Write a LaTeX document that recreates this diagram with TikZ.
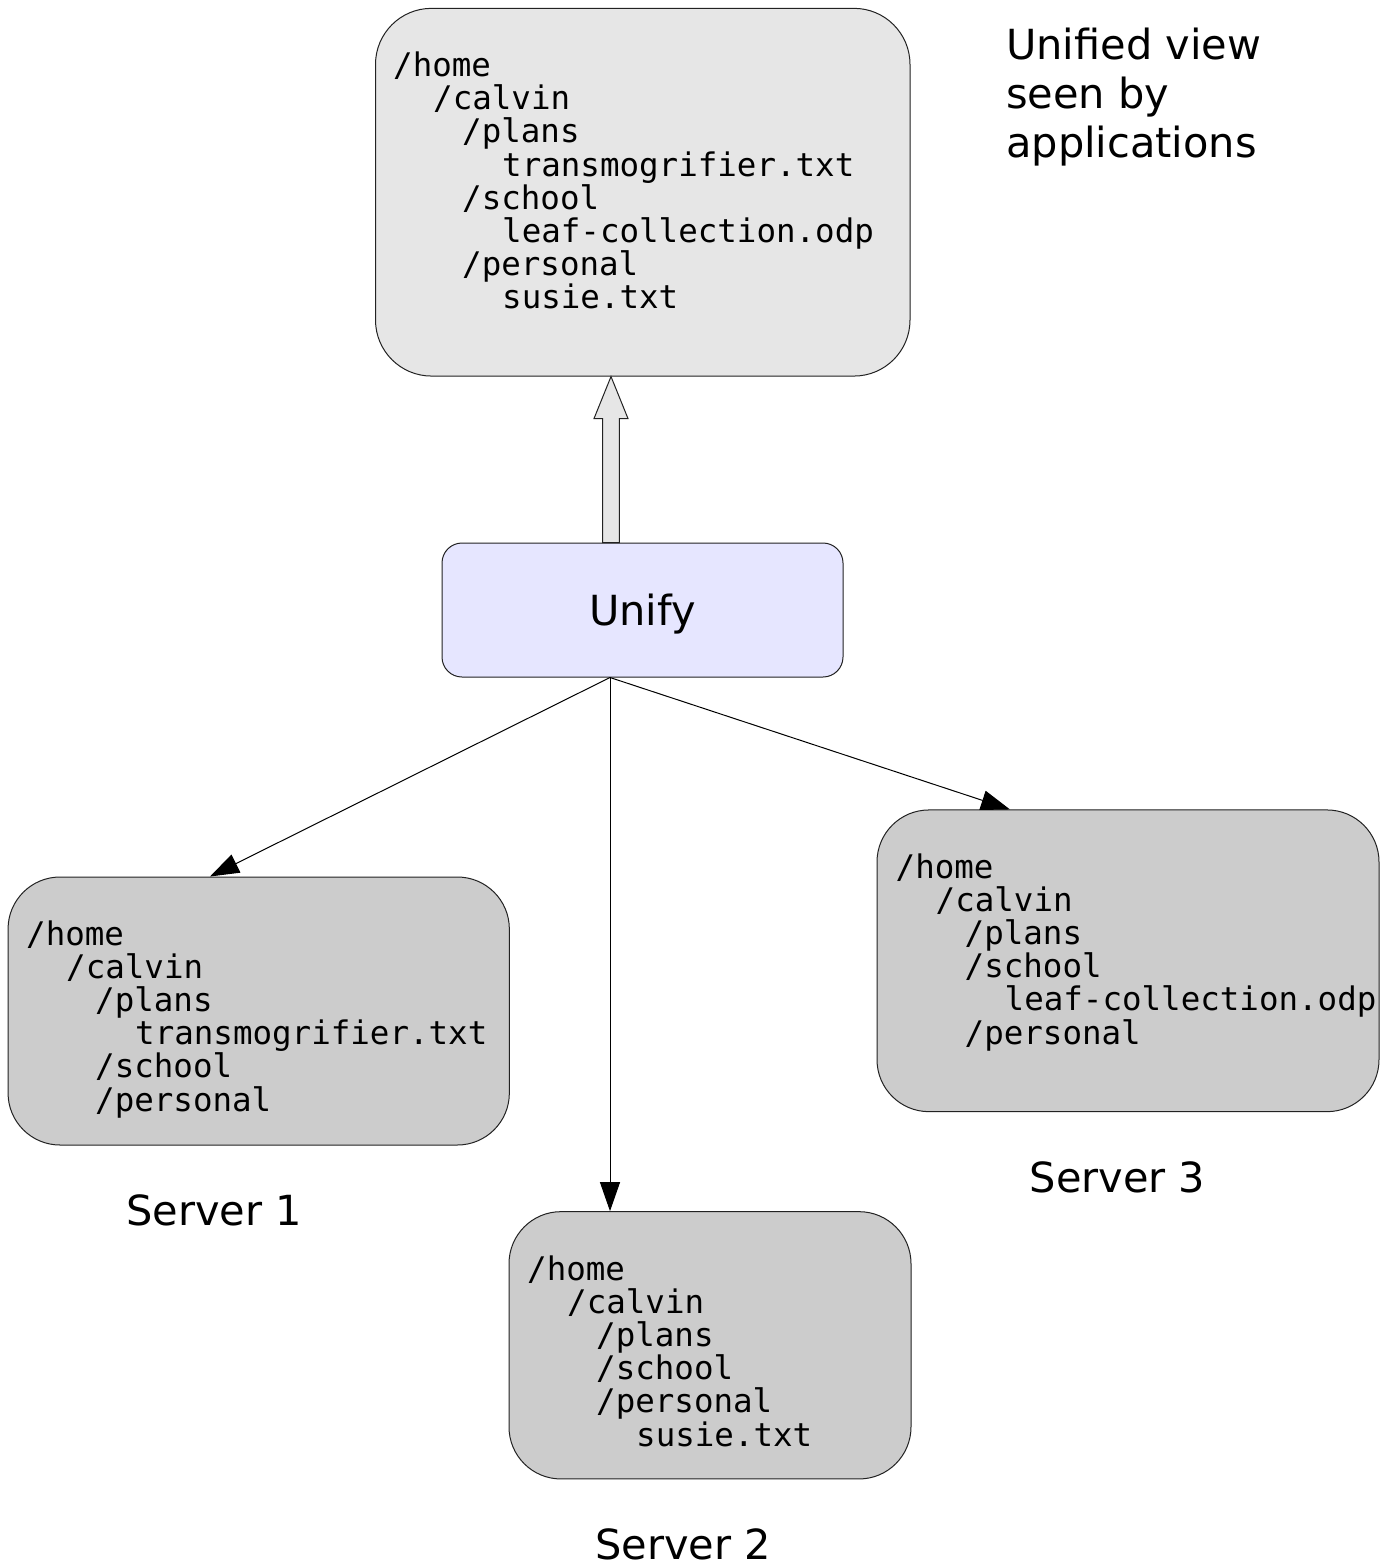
\documentclass[tikz,border=0pt]{standalone}
\usepackage{fontspec}
\setmainfont{DejaVu Sans}
\setmonofont{DejaVu Sans Mono}
\usetikzlibrary{arrows.meta,calc}
\newcommand{\dirln}[2]{\hbox{\hspace*{#1}#2}}
\newcommand{\dirtree}[1]{\vtop{\baselineskip=33.2pt\lineskiplimit=-200pt\lineskip=0pt #1}}
\newcommand{\lbltree}[1]{\vtop{\baselineskip=49pt\lineskiplimit=-200pt\lineskip=0pt #1}}
\definecolor{topfill}{HTML}{E6E6E6}
\definecolor{srvfill}{HTML}{CCCCCC}
\definecolor{unifyfill}{HTML}{E6E6FF}
\definecolor{edge}{HTML}{222222}
\tikzset{
  dirbox/.style={draw=edge, line width=1pt, rectangle, inner sep=0pt, rounded corners=52pt},
  topbox/.style={dirbox, fill=topfill},
  srvbox/.style={dirbox, fill=srvfill},
  unifybox/.style={draw=edge, line width=1pt, rectangle, inner sep=0pt, rounded corners=20pt,
     fill=unifyfill, minimum width=401pt, minimum height=134pt,
     font=\fontsize{41.5}{49}\selectfont, text height=30.2pt, text depth=0pt},
  treetext/.style={anchor=base west, inner sep=0pt, font=\fontsize{32.5}{33.2}\selectfont\ttfamily},
  lbl/.style={anchor=base west, inner sep=0pt, font=\fontsize{41.5}{49}\selectfont},
  thinarrow/.style={draw=black, line width=1pt, -{Triangle[length=29pt,width=20pt]}},
  hollow/.style={draw=edge, line width=1pt, fill=topfill, line join=miter}
}
\begin{document}
\begin{tikzpicture}[x=1pt,y=-1pt]
\useasboundingbox (0,0) rectangle (1382,1564);
\fill[white] (0,0) rectangle (1382,1564);

% boxes
\node[topbox, minimum width=534.5pt, minimum height=367.7pt, rounded corners=56pt] (top) at (642.75,192.2) {};
\node[unifybox] (unify) at (642.5,610) {Unify};
\node[srvbox, minimum width=501.3pt, minimum height=268pt] (s1) at (258.7,1011) {};
\node[srvbox, minimum width=402pt, minimum height=267.3pt] (s2) at (710,1345.3) {};
\node[srvbox, minimum width=502pt, minimum height=301.7pt] (s3) at (1128,960.8) {};

% tree texts
\node[treetext] (ttop) at (393,76.5) {\dirtree{%
\dirln{0pt}{/home}
\dirln{40pt}{/calvin}
\dirln{69pt}{/plans}
\dirln{109pt}{transmogrifier.txt}
\dirln{69pt}{/school}
\dirln{109pt}{leaf-collection.odp}
\dirln{69pt}{/personal}
\dirln{109pt}{susie.txt}}};

\node[treetext] (t1) at (26,945) {\dirtree{%
\dirln{0pt}{/home}
\dirln{40pt}{/calvin}
\dirln{69pt}{/plans}
\dirln{109pt}{transmogrifier.txt}
\dirln{69pt}{/school}
\dirln{69pt}{/personal}}};

\node[treetext] (t2) at (527,1280) {\dirtree{%
\dirln{0pt}{/home}
\dirln{40pt}{/calvin}
\dirln{69pt}{/plans}
\dirln{69pt}{/school}
\dirln{69pt}{/personal}
\dirln{109pt}{susie.txt}}};

\node[treetext] (t3) at (895.5,878) {\dirtree{%
\dirln{0pt}{/home}
\dirln{40pt}{/calvin}
\dirln{69pt}{/plans}
\dirln{69pt}{/school}
\dirln{109pt}{leaf-collection.odp}
\dirln{69pt}{/personal}}};

% labels
\node[lbl] (lview) at (1006,59) {\lbltree{%
\hbox{Unified view}
\hbox{seen by}
\hbox{applications}}};
\node[lbl] (l1) at (126,1225) {Server 1};
\node[lbl] (l2) at (595,1559) {Server 2};
\node[lbl] (l3) at (1029.5,1192) {Server 3};

% hollow arrow from Unify up to the unified view
\coordinate (ha) at (611,0);
\coordinate (hbase) at (ha |- unify.north);
\coordinate (htip) at (ha |- top.south);
\draw[hollow] ($(hbase)+(-8.3,0)$) -- ($(htip)+(-8.3,42)$) -- ($(htip)+(-17,42)$) -- (htip)
  -- ($(htip)+(17,42)$) -- ($(htip)+(8.3,42)$) -- ($(hbase)+(8.3,0)$) -- cycle;

% thin arrows
\coordinate (src) at ($(unify.south)+(-32.5,0)$);
\coordinate (p1) at (s1.north -| 210,0);
\coordinate (p2) at (s2.north -| src);
\coordinate (p3) at (s3.north -| 1010,0);
\draw[thinarrow] (src) -- (p1);
\draw[thinarrow] (src) -- (p2);
\draw[thinarrow] (src) -- (p3);
\end{tikzpicture}
\end{document}
